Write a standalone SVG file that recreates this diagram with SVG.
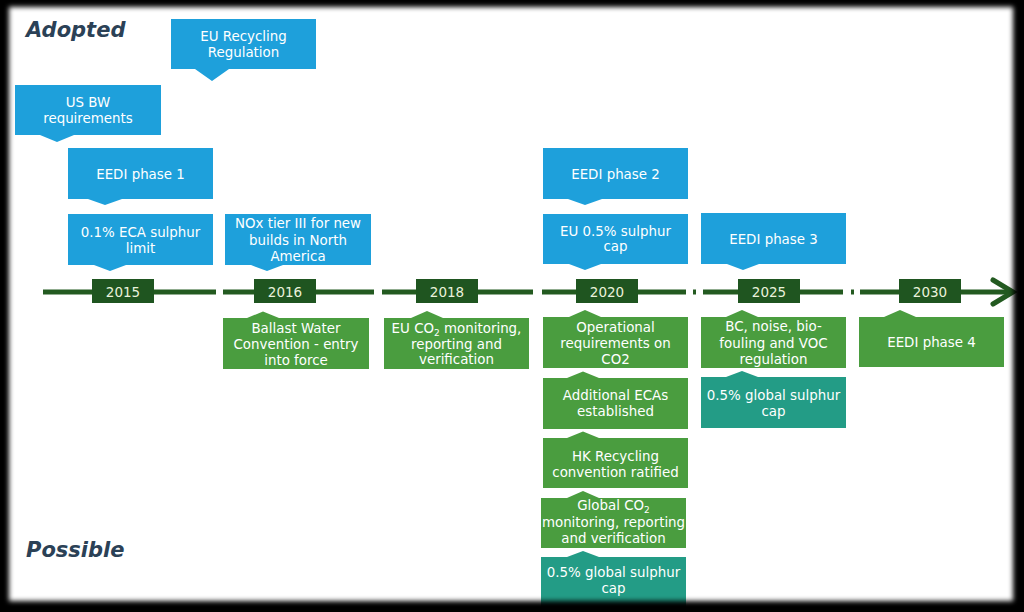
<svg xmlns="http://www.w3.org/2000/svg" width="1024" height="612" viewBox="0 0 1024 612">
<defs>
<filter id="blur" x="-5%" y="-5%" width="110%" height="110%"><feGaussianBlur stdDeviation="2.5"/></filter>
<style>
.blue{fill:#1EA0DB}
.green{fill:#4A9D3F}
.teal{fill:#239C86}
.t{font-family:"DejaVu Sans","Verdana",sans-serif;font-size:13.4px;fill:#FFFFFF;text-anchor:middle}
.yr{fill:#1F5520}
.yt{font-family:"DejaVu Sans","Verdana",sans-serif;font-size:13.5px;fill:#EAF2DC;text-anchor:middle}
.line{stroke:#235A20;stroke-width:5;fill:none}
.lbl{font-family:"DejaVu Sans","Verdana",sans-serif;font-size:21px;font-weight:bold;font-style:italic;fill:#2B4156}
.sub{font-size:9px}
</style>
</defs>
<rect x="0" y="0" width="1024" height="612" fill="#FFFFFF"/>

<text class="lbl" x="26" y="37">Adopted</text>
<text class="lbl" x="26" y="557">Possible</text>

<g id="connectors">
<path class="line" d="M43,292 H216 M223,292 H374 M382,292 H533 M542,292 H686 M693,292 H696 M703,292 H843 M851,292 H854 M860,292 H1011"/>
<polyline class="line" points="993,280 1013,292 993,304" stroke-width="6" stroke-linecap="round" stroke-linejoin="miter"/>
</g>

<g id="y2015"><rect class="yr" x="92" y="279" width="62" height="24"/><text class="yt" x="123" y="297">2015</text></g>
<g id="y2016"><rect class="yr" x="254" y="279" width="62" height="24"/><text class="yt" x="285" y="297">2016</text></g>
<g id="y2018"><rect class="yr" x="416" y="279" width="62" height="24"/><text class="yt" x="447" y="297">2018</text></g>
<g id="y2020"><rect class="yr" x="576" y="279" width="62" height="24"/><text class="yt" x="607" y="297">2020</text></g>
<g id="y2025"><rect class="yr" x="738" y="279" width="62" height="24"/><text class="yt" x="769" y="297">2025</text></g>
<g id="y2030"><rect class="yr" x="899" y="279" width="62" height="24"/><text class="yt" x="930" y="297">2030</text></g>

<g id="eu-recycling"><path class="blue" d="M171,19 H316 V69 H229 L212,81 L195,69 H171 Z"/>
<text class="t" x="243.5" y="41">EU Recycling</text><text class="t" x="243.5" y="57">Regulation</text></g>
<g id="us-bw"><path class="blue" d="M15,85 H161 V135 H74 L57,142 L40,135 H15 Z"/>
<text class="t" x="88" y="107">US BW</text><text class="t" x="88" y="123">requirements</text></g>
<g id="eedi1"><path class="blue" d="M68,148 H213 V199 H122 L105,205 L88,199 H68 Z"/>
<text class="t" x="140.5" y="179">EEDI phase 1</text></g>
<g id="eca01"><path class="blue" d="M68,214 H213 V265 H126 L110,271 L94,265 H68 Z"/>
<text class="t" x="140.5" y="237">0.1% ECA sulphur</text><text class="t" x="140.5" y="253">limit</text></g>
<g id="nox"><path class="blue" d="M225,214 H371 V265 H283 L267,271 L251,265 H225 Z"/>
<text class="t" x="298" y="228">NOx tier III for new</text><text class="t" x="298" y="244.5">builds in North</text><text class="t" x="298" y="261">America</text></g>
<g id="eedi2"><path class="blue" d="M543,148 H688 V199 H602 L585,205 L568,199 H543 Z"/>
<text class="t" x="615.5" y="179">EEDI phase 2</text></g>
<g id="eu05"><path class="blue" d="M543,214 H688 V264 H601 L585,270 L569,264 H543 Z"/>
<text class="t" x="615.5" y="236">EU 0.5% sulphur</text><text class="t" x="615.5" y="251">cap</text></g>
<g id="eedi3"><path class="blue" d="M701,213 H846 V264 H759 L743,270 L727,264 H701 Z"/>
<text class="t" x="773.5" y="244">EEDI phase 3</text></g>

<g id="ballast"><path class="green" d="M223,318 H247 L263,311.5 L279,318 H369 V369 H223 Z"/>
<text class="t" x="296" y="332.5">Ballast Water</text><text class="t" x="296" y="348.5">Convention - entry</text><text class="t" x="296" y="364.5">into force</text></g>
<g id="eu-co2"><path class="green" d="M384,318 H411 L427,311 L443,318 H529 V369 H384 Z"/>
<text class="t" x="456.5" y="333">EU CO<tspan class="sub" dy="3">2</tspan><tspan dy="-3"> monitoring,</tspan></text><text class="t" x="456.5" y="348.5">reporting and</text><text class="t" x="456.5" y="364">verification</text></g>
<g id="operational"><path class="green" d="M543,317 H569 L585,310 L601,317 H688 V368 H543 Z"/>
<text class="t" x="615.5" y="332">Operational</text><text class="t" x="615.5" y="348">requirements on</text><text class="t" x="615.5" y="364">CO2</text></g>
<g id="ecas"><path class="green" d="M543,378 H567 L583,371.5 L599,378 H688 V429 H543 Z"/>
<text class="t" x="615.5" y="400">Additional ECAs</text><text class="t" x="615.5" y="416">established</text></g>
<g id="hk"><path class="green" d="M543,438 H567 L583,431.5 L599,438 H688 V488 H543 Z"/>
<text class="t" x="615.5" y="461">HK Recycling</text><text class="t" x="615.5" y="477">convention ratified</text></g>
<g id="global-co2"><path class="green" d="M541,498 H567 L583,491 L599,498 H686 V548 H541 Z"/>
<text class="t" x="613.5" y="510">Global CO<tspan class="sub" dy="3">2</tspan></text><text class="t" x="613.5" y="526.5">monitoring, reporting</text><text class="t" x="613.5" y="542.5">and verification</text></g>
<g id="global-sulphur-2020"><path class="teal" d="M541,557 H567 L583,551 L599,557 H686 V612 H541 Z"/>
<text class="t" x="613.5" y="577">0.5% global sulphur</text><text class="t" x="613.5" y="593">cap</text></g>
<g id="bc-noise"><path class="green" d="M701,317 H726 L742,310 L758,317 H846 V368 H701 Z"/>
<text class="t" x="773.5" y="331">BC, noise, bio-</text><text class="t" x="773.5" y="347.5">fouling and VOC</text><text class="t" x="773.5" y="363.5">regulation</text></g>
<g id="global-sulphur-2025"><path class="teal" d="M701,377 H726 L742,371 L758,377 H846 V428 H701 Z"/>
<text class="t" x="773.5" y="400">0.5% global sulphur</text><text class="t" x="773.5" y="416">cap</text></g>
<g id="eedi4"><path class="green" d="M859,317 H884 L900,310 L916,317 H1004 V367 H859 Z"/>
<text class="t" x="931.5" y="347">EEDI phase 4</text></g>

<path id="frame" fill="#000000" fill-rule="evenodd" filter="url(#blur)" d="M-30,-30 H1054 V642 H-30 Z M9,7 V601 H1013 V7 Z"/>
</svg>
